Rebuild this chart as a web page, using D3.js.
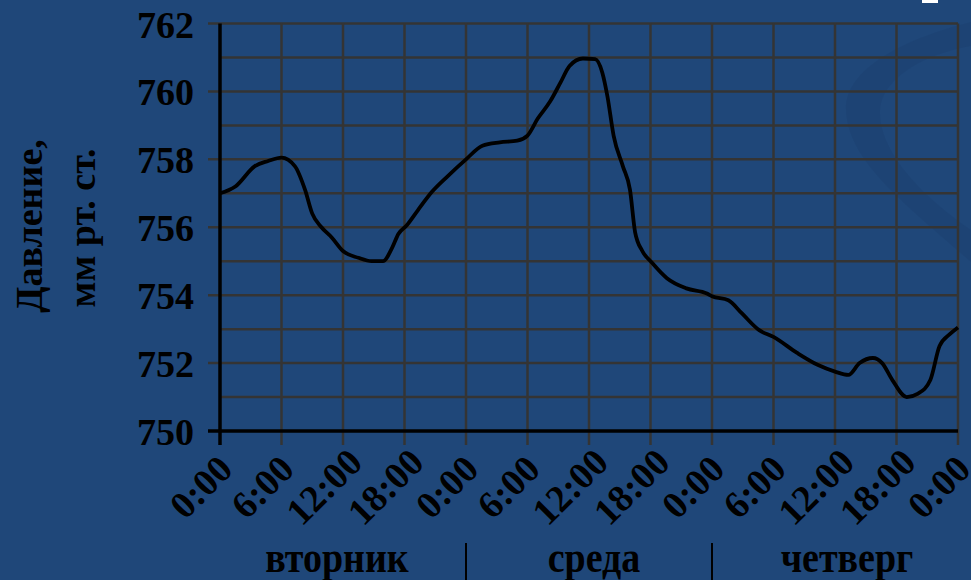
<!DOCTYPE html>
<html>
<head>
<meta charset="utf-8">
<script src="https://cdn.jsdelivr.net/npm/d3@7"></script>
<style>
  body { margin: 0; background: #1f4779; }
  svg { display: block; }
  text { font-family: "Liberation Serif", "Times New Roman", serif; font-weight: bold; fill: #000; }
</style>
</head>
<body>
<div id="chart"></div>
<script>
// pressure readings, hours from tuesday 0:00
var hours = [0, 1.5, 3.4, 4.7, 6, 7.3, 8.3, 9, 9.9, 10.9, 12, 13.5, 14.8, 15.9, 16.8, 17.4, 18.2, 19.3, 20.7, 22.2,
  24, 25.6, 27.3, 29, 30, 31, 32.2, 33.2, 34.1, 35.4, 36.6, 37.3, 37.8, 38.4, 39.3, 40, 40.5, 41.2, 42.1, 43.6, 45.5, 47.5,
  48, 49.6, 50.9, 52.6, 54, 56.3, 58.3, 60, 61.3, 62.4, 63.7, 64.6, 65.6, 67, 68.1, 69.3, 70.2, 71.2, 72];
var pressure = [757.0, 757.2, 757.8, 757.95, 758.05, 757.8, 757.1, 756.4, 756.0, 755.7, 755.3, 755.1, 755.0, 755.0, 755.4, 755.8, 756.05, 756.5, 757.05, 757.5,
  758.0, 758.4, 758.5, 758.55, 758.7, 759.2, 759.7, 760.25, 760.75, 760.97, 760.95, 760.55, 759.85, 758.7, 757.8, 757.1, 755.85, 755.3, 754.97, 754.5, 754.2, 754.05,
  753.97, 753.85, 753.47, 752.97, 752.77, 752.3, 751.95, 751.75, 751.65, 752.0, 752.15, 752.0, 751.5, 751.0, 751.1, 751.5, 752.5, 752.85, 753.05];

var tickHours = [0, 6, 12, 18, 24, 30, 36, 42, 48, 54, 60, 66, 72];
var tickLabels = ["0:00", "6:00", "12:00", "18:00", "0:00", "6:00", "12:00", "18:00", "0:00", "6:00", "12:00", "18:00", "0:00"];
var yTicks = [750, 752, 754, 756, 758, 760, 762];
var yGrid = [751, 752, 753, 754, 755, 756, 757, 758, 759, 760, 761, 762];
var days = ["вторник", "среда", "четверг"];
var dayStart = [0, 24, 48];

var width = 971, height = 580;
var gridColor = "#343434";
// day captions are not quite centred in the original
var dayNudge = [-6, 5, 12];

var svg = d3.select("#chart").append("svg")
  .attr("width", width)
  .attr("height", height);

// background decoration (the slide's swoosh)
svg.append("path")
  .attr("d", "M971,22 C900,40 845,70 846,110 C848,160 900,200 971,262 L971,230 C920,195 878,150 880,110 C882,80 920,55 971,46 Z")
  .attr("fill", "#1a3c69")
  .attr("opacity", 0.3);
svg.append("rect")
  .attr("x", 922).attr("y", 0)
  .attr("width", 16).attr("height", 3)
  .attr("fill", "#ffffff");

var x = d3.scaleLinear().domain([0, 72]).range([220, 958]);
var y = d3.scaleLinear().domain([750, 762]).range([431, 23.5]);

// horizontal grid, even values stick out as ticks
svg.selectAll(".hgrid")
  .data(yGrid)
  .enter()
  .append("line")
  .attr("class", "hgrid")
  .attr("x1", d => d % 2 == 0 ? 208 : x(0))
  .attr("x2", x(72))
  .attr("y1", d => y(d))
  .attr("y2", d => y(d))
  .attr("stroke", gridColor)
  .attr("stroke-width", 2.5);

// vertical grid, running down as ticks
svg.selectAll(".vgrid")
  .data(tickHours.slice(1))
  .enter()
  .append("line")
  .attr("class", "vgrid")
  .attr("x1", d => x(d))
  .attr("x2", d => x(d))
  .attr("y1", y(762))
  .attr("y2", 445)
  .attr("stroke", gridColor)
  .attr("stroke-width", 2.5);

// axes lines
svg.append("line")
  .attr("x1", x(0)).attr("x2", x(0))
  .attr("y1", y(762)).attr("y2", 445)
  .attr("stroke", "#000").attr("stroke-width", 3.5);
svg.append("line")
  .attr("x1", 208).attr("x2", x(72))
  .attr("y1", y(750)).attr("y2", y(750))
  .attr("stroke", "#000").attr("stroke-width", 3.5);

// y tick labels
svg.selectAll(".ylab")
  .data(yTicks)
  .enter()
  .append("text")
  .attr("class", "ylab")
  .attr("x", 194)
  .attr("y", d => y(d) + 14)
  .attr("text-anchor", "end")
  .attr("font-size", 38)
  .text(d => d);

// x tick labels, rotated
svg.selectAll(".xlab")
  .data(tickHours)
  .enter()
  .append("text")
  .attr("class", "xlab")
  .attr("transform", d => "translate(" + (x(d) - 10) + ",496) rotate(-45)")
  .attr("text-anchor", "middle")
  .attr("font-size", 38)
  .text((d, i) => tickLabels[i]);

// y title
svg.append("text")
  .attr("transform", "translate(42,226) rotate(-90)")
  .attr("text-anchor", "middle")
  .attr("font-size", 38)
  .text("Давление,");
svg.append("text")
  .attr("transform", "translate(95,228) rotate(-90)")
  .attr("text-anchor", "middle")
  .attr("font-size", 38)
  .text("мм рт. ст.");

// day names and separators
svg.selectAll(".day")
  .data(days)
  .enter()
  .append("text")
  .attr("class", "day")
  .attr("transform", (d, i) => "translate(" + (x(dayStart[i] + 12) + dayNudge[i]) + ",572) scale(1,1.15)")
  .attr("text-anchor", "middle")
  .attr("font-size", 38)
  .text(d => d);
svg.selectAll(".sep")
  .data(dayStart.slice(1))
  .enter()
  .append("line")
  .attr("class", "sep")
  .attr("x1", d => x(d)).attr("x2", d => x(d))
  .attr("y1", 543).attr("y2", 580)
  .attr("stroke", "#000").attr("stroke-width", 2);

// pressure curve
var line = d3.line()
  .x((d, i) => x(hours[i]))
  .y(d => y(d))
  .curve(d3.curveMonotoneX);
svg.append("path")
  .attr("d", line(pressure))
  .attr("fill", "none")
  .attr("stroke", "#000")
  .attr("stroke-width", 3.8);
</script>
</body>
</html>
